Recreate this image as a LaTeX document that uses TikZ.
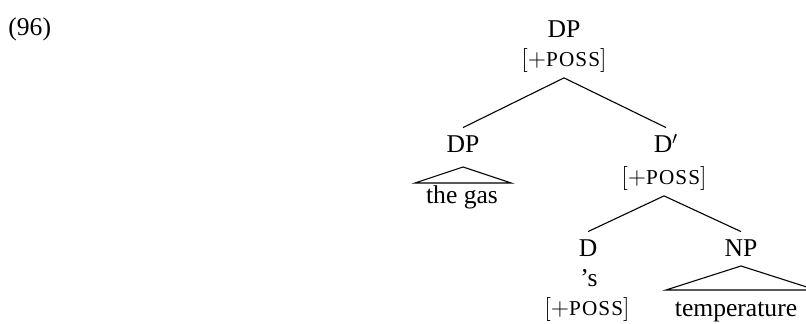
\documentclass[tikz,border=0pt]{standalone}
\usepackage{fontspec}
\setmainfont{Liberation Serif}
\newfontfamily\featsc[LetterSpace=5]{Liberation Serif}
\newcommand{\possfeat}{$[+${\featsc\fontsize{10.6}{12}\selectfont POSS}$]$}
\begin{document}
\begin{tikzpicture}[x=0.5pt,y=-0.5pt,
  txt/.style={font=\fontsize{12.8}{15}\selectfont, inner sep=0pt, anchor=base},
  cat/.style={txt, text height=12.5pt, text depth=0pt},
  feat/.style={txt, text height=9pt, text depth=5.25pt},
  branch/.style={line width=0.55pt},
  roof/.style={line width=0.55pt, line join=miter}]
\useasboundingbox (0,0) rectangle (806,324);
\clip (0,0) rectangle (806,324);

% example number
\node[txt, anchor=base west] (num) at (8,35.5) {(96)};

% root
\node[cat]  (root)  at (564,38)  {DP};
\node[feat] (rootf) at (564,67)  {\possfeat};

% possessor
\node[cat] (poss) at (463,153) {DP};
\node[txt] (gas)  at (462,204) {the gas};

% D-bar
\node[cat]  (dbar)  at (666,153) {D$'$};
\node[feat] (dbarf) at (664,185) {\possfeat};

% head D
\node[cat]  (dhead) at (588,257) {D};
\node[txt]  (sfx)   at (589,287) {’s};
\node[feat] (dfeat) at (587,316) {\possfeat};

% complement NP
\node[cat] (np)   at (741,257) {NP};
\node[txt] (temp) at (736,317) {temperature};

% branches
\draw[branch] (rootf.south) -- (poss.north);
\draw[branch] (rootf.south) -- (dbar.north);
\draw[branch] (dbarf.south) -- (dhead.north);
\draw[branch] (dbarf.south) -- (np.north);

% roofs over unanalysed phrases
\draw[roof] ([yshift=-7pt]poss.base) -- ([xshift=-24pt,yshift=-15pt]poss.base)
  -- ([xshift=24pt,yshift=-15pt]poss.base) -- cycle;
\draw[roof] ([yshift=-4.5pt]np.base) -- ([xshift=-37.5pt,yshift=-16.5pt]np.base)
  -- ([xshift=37.5pt,yshift=-16.5pt]np.base) -- cycle;
\end{tikzpicture}
\end{document}
